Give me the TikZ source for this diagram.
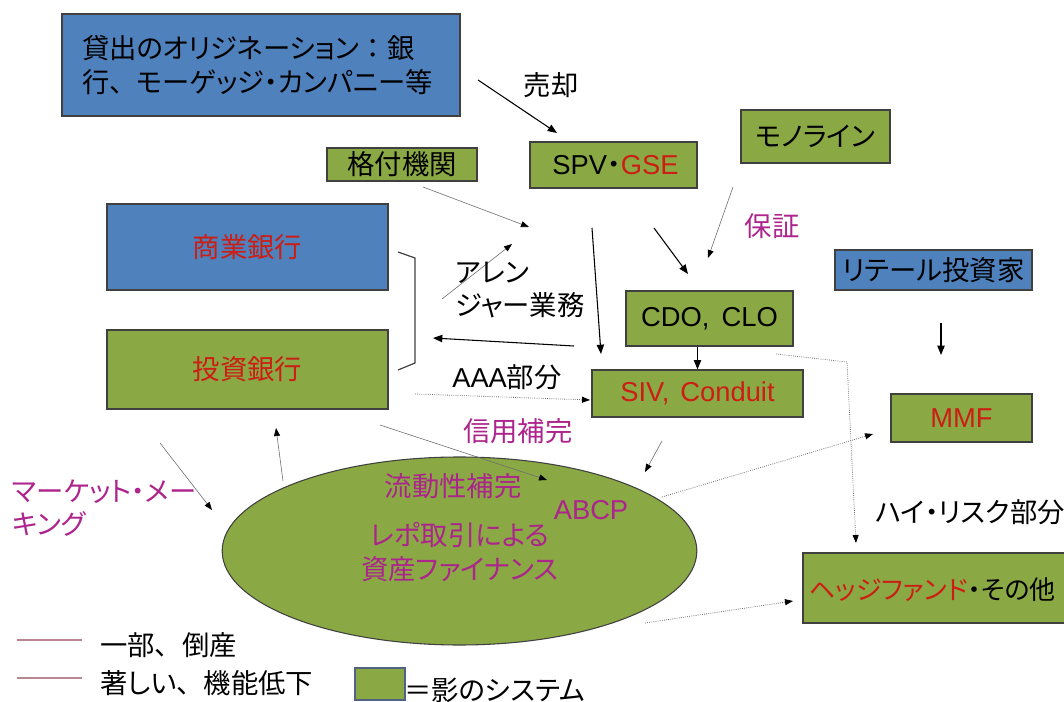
\documentclass[tikz,border=0pt]{standalone}
\usepackage{fontspec}
\setmainfont{Noto Sans CJK JP}[RawFeature=+palt]
\newfontfamily\jpfull{Noto Sans CJK JP}
\newfontfamily\lat{Liberation Sans}
\usetikzlibrary{shapes.geometric,arrows.meta}
\definecolor{bxblue}{RGB}{79,129,189}
\definecolor{bxgreen}{RGB}{138,168,68}
\definecolor{bxline}{RGB}{64,64,64}
\definecolor{txred}{RGB}{204,30,20}
\definecolor{txmag}{RGB}{172,36,140}
\definecolor{lgline}{RGB}{185,135,145}
\definecolor{lgbox}{RGB}{80,100,130}
\definecolor{thinline}{RGB}{110,110,110}
\newcommand\myfs{\fontsize{20.5}{25}\selectfont}
\newcommand\tou{{\jpfull 、}}
\begin{document}
\begin{tikzpicture}[x=0.75pt,y=-0.75pt,
  every node/.style={font=\myfs, inner sep=0pt},
  box/.style={draw=bxline, line width=0.9pt, inner sep=0pt},
  bluebox/.style={box, fill=bxblue},
  greenbox/.style={box, fill=bxgreen},
  blkarrow/.style={draw=black, line width=0.8pt, -{Triangle[length=7pt,width=5.5pt]}},
  thinarrow/.style={draw=thinline, line width=0.45pt, -{Triangle[length=6pt,width=4.5pt,color=black]}},
  dotarrow/.style={draw=thinline, line width=0.6pt, densely dotted, -{Triangle[length=6pt,width=4.5pt,color=black]}},
  lgstroke/.style={draw=lgline, line width=0.8pt}
]
\useasboundingbox (0,0) rectangle (1064,702);

% ellipse
\node[ellipse, draw=bxline, fill=bxgreen, line width=0.8pt, minimum width=356pt, minimum height=141pt] (ell) at (459.5,551) {};

% boxes
\node[bluebox, minimum width=298.5pt, minimum height=76.5pt, text width=268.5pt, inner xsep=15pt, align=left] (orig) at (261,65) {貸出のオリジネーション{\jpfull ：}銀\\行\tou モーゲッジ・カンパニー等};
\node[greenbox, minimum width=125.25pt, minimum height=34.5pt] (spv) at (613.5,165) {\hspace*{3pt}{\lat SPV}・\textcolor{txred}{\lat GSE}};
\node[greenbox, minimum width=112.5pt, minimum height=24.75pt] (rating) at (402,164.5) {格付機関};
\node[greenbox, minimum width=111.75pt, minimum height=39.75pt] (mono) at (815.5,136.5) {モノライン};
\node[bluebox, minimum width=147.75pt, minimum height=30pt] (retail) at (933.5,270) {リテール投資家};
\node[bluebox, minimum width=210.75pt, minimum height=64.5pt] (shogyo) at (247.5,247) {\textcolor{txred}{商業銀行}};
\node[greenbox, minimum width=210.75pt, minimum height=59.25pt] (toshi) at (247.5,369.5) {\raisebox{-4.5pt}{\textcolor{txred}{投資銀行}}};
\node[greenbox, minimum width=125.25pt, minimum height=41.25pt] (cdo) at (709.5,318.5) {{\lat CDO,}\hspace{0.45em}{\lat CLO}};
\node[greenbox, minimum width=158.25pt, minimum height=35.25pt] (siv) at (697.5,393.5) {\textcolor{txred}{{\lat SIV,}\hspace{0.4em}{\lat Conduit}}};
\node[greenbox, minimum width=105.75pt, minimum height=36pt] (mmf) at (961.5,418) {\textcolor{txred}{\lat MMF}};
\node[greenbox, minimum width=207.75pt, minimum height=52.5pt] (hf) at (941.5,588) {};
\node[anchor=west, font=\fontsize{19.5}{24}\selectfont] (hftxt) at (809,590) {\textcolor{txred}{ヘッジファンド}・その他};

% bracket
\coordinate (br1) at (398,252);
\coordinate (br2) at (415,258);
\coordinate (br3) at (415,363);
\coordinate (br4) at (398,370);
\draw[draw=bxline, line width=0.9pt] (br1) -- (br2) -- (br3) -- (br4);

% arrow end points
\coordinate (a1s) at (478,80);   \coordinate (a1e) at (557,133);
\coordinate (a2s) at (423,187);  \coordinate (a2e) at (529,227);
\coordinate (a3s) at (442,299);  \coordinate (a3e) at (512,244);
\coordinate (a4s) at (592,228);  \coordinate (a4e) at (601,354);
\coordinate (a5s) at (654,228);  \coordinate (a5e) at (688,274);
\coordinate (a6s) at (733,187);  \coordinate (a6e) at (708,258);
\coordinate (a7s) at (574,346);  \coordinate (a7e) at (433,338);
\coordinate (a9s) at (415,394);  \coordinate (a9e) at (590,400);
\coordinate (a10s) at (941,323); \coordinate (a10e) at (941,355);
\coordinate (a11s) at (776,354); \coordinate (a11m) at (847,362); \coordinate (a11e) at (856,543);
\coordinate (a12s) at (662,441); \coordinate (a12e) at (645,472);
\coordinate (a13s) at (662,497); \coordinate (a13e) at (873,434);
\coordinate (a14s) at (645,623); \coordinate (a14e) at (793,601);
\coordinate (a15s) at (380,425); \coordinate (a15e) at (547,480);
\coordinate (a16s) at (283,481); \coordinate (a16e) at (276,428);
\coordinate (a17s) at (160,443); \coordinate (a17e) at (212,510);

% arrows
\draw[blkarrow] (a1s) -- (a1e);
\draw[thinarrow] (a2s) -- (a2e);
\draw[thinarrow] (a3s) -- (a3e);
\draw[blkarrow] (a4s) -- (a4e);
\draw[blkarrow] (a5s) -- (a5e);
\draw[thinarrow] (a6s) -- (a6e);
\draw[blkarrow] (a7s) -- (a7e);
\draw[blkarrow] (siv.north |- cdo.south) -- (siv.north);
\draw[dotarrow] (a9s) -- (a9e);
\draw[blkarrow] (a10s) -- (a10e);
\draw[dotarrow] (a11s) -- (a11m) -- (a11e);
\draw[thinarrow] (a12s) -- (a12e);
\draw[dotarrow] (a13s) -- (a13e);
\draw[dotarrow] (a14s) -- (a14e);
\draw[thinarrow] (a15s) -- (a15e);
\draw[thinarrow] (a16s) -- (a16e);
\draw[thinarrow] (a17s) -- (a17e);

% labels
\node (sell) at (551,85) {売却};
\node[text=txmag] (hosho) at (772,226) {保証};
\node[anchor=west, align=left] (arranger) at (455,290) {アレン\\ジャー業務};
\node[anchor=west] (aaa) at (452,377) {{\lat AAA}部分};
\node[anchor=west, text=txmag] (shinyo) at (463,431) {信用補完};
\node[anchor=west] (hirisk) at (875,512) {ハイ・リスク部分};
\node[anchor=west, align=left, text=txmag] (market) at (12,508) {マーケット・メー\\キング};

% ellipse texts
\node[text=txmag] (ryudo) at (453,486) {流動性補完};
\node[text=txmag] (abcp) at (591,510) {\lat ABCP};
\node[text=txmag, align=center] (repo) at (460,552) {レポ取引による\\資産ファイナンス};

% legend
\coordinate (lg1a) at (17,640); \coordinate (lg1b) at (82,640);
\coordinate (lg2a) at (17,678); \coordinate (lg2b) at (82,678);
\draw[lgstroke] (lg1a) -- (lg1b);
\draw[lgstroke] (lg2a) -- (lg2b);
\node[anchor=west] (lgt1) at (100,645) {一部\tou 倒産};
\node[anchor=west] (lgt2) at (100,683) {著しい\tou 機能低下};
\node[fill=bxgreen, draw=lgbox, line width=1.5pt, minimum width=37.5pt, minimum height=24pt] (lgsq) at (380,684) {};
\node[anchor=west] (lgt3) at (404,690) {＝影のシステム};
\end{tikzpicture}
\end{document}
